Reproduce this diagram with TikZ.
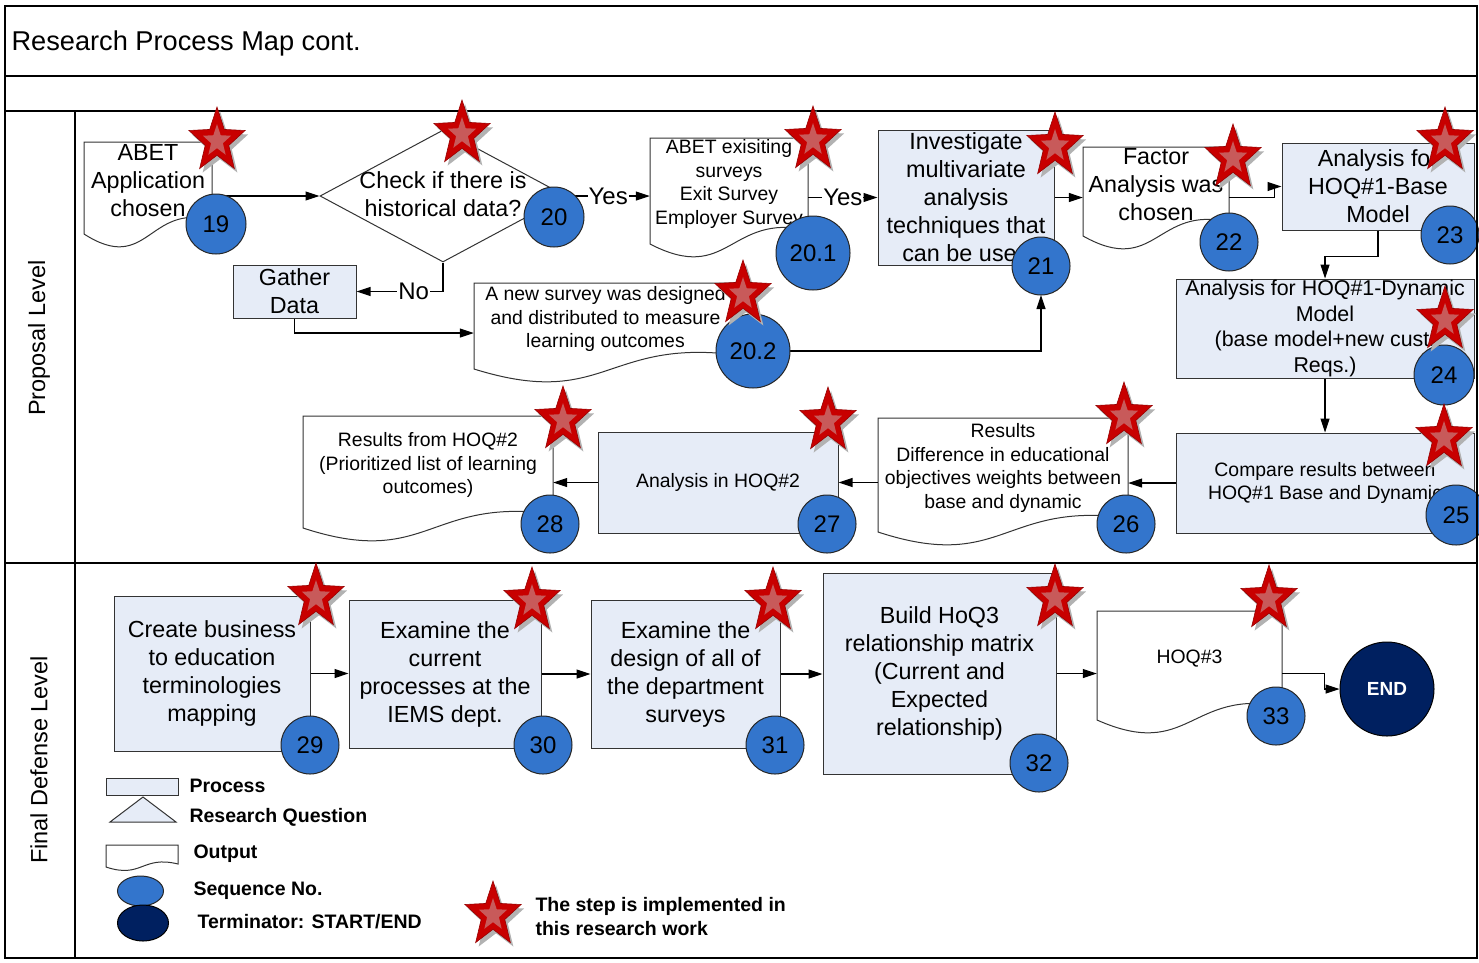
\documentclass[tikz,border=0pt]{standalone}
\usepackage{fontspec}
\setmainfont{Liberation Sans}
\usetikzlibrary{arrows.meta,shapes.geometric,calc}
\definecolor{procfill}{RGB}{230,236,247}
\definecolor{seqblue}{RGB}{51,117,204}
\definecolor{endnavy}{RGB}{0,32,96}
\definecolor{starred}{RGB}{200,0,0}
\definecolor{stardark}{RGB}{150,0,0}
\definecolor{starlight}{RGB}{200,90,90}
\newcommand\spath{(270:29.5 and 34) -- (306:12.4 and 14.3) -- (342:29.5 and 34) -- (18:12.4 and 14.3) -- (54:29.5 and 34) -- (90:12.4 and 14.3) -- (126:29.5 and 34) -- (162:12.4 and 14.3) -- (198:29.5 and 34) -- (234:12.4 and 14.3) -- cycle}
\newcommand\docnode[7]{%
  \draw[outl, fill=white] (#2,#3) -- (#4,#3) -- (#4,#5) .. controls ({(#2+#4)/2},{#5-17}) and ({(#2+#4)/2},{#5+55}) .. (#2,{#5+14}) -- cycle;
  \node[docbox,#6, minimum width={#4-#2}, minimum height={#5-#3}] (#1) at ({(#2+#4)/2},{(#3+#5)/2}) {#7};
}
\begin{document}
\begin{tikzpicture}[x=1pt,y=-1pt,
  frame/.style={line width=1.2pt, draw=black},
  outl/.style={line width=1pt, draw=black!80},
  docbox/.style={inner sep=0pt, align=center},
  proc/.style={rectangle, outl, fill=procfill, inner sep=0pt, align=center},
  f22/.style={font=\fontsize{23.3}{28}\selectfont},
  f23/.style={font=\fontsize{23.4}{28}\selectfont},
  f20/.style={font=\fontsize{21.4}{25.5}\selectfont},
  f18/.style={font=\fontsize{19.4}{23.5}\selectfont},
  fleg/.style={font=\bfseries\fontsize{19.5}{24}\selectfont},
  seq/.style={circle, draw=black!85, line width=1pt, fill=seqblue, inner sep=0pt, minimum size=58pt, font=\fontsize{24}{24}\selectfont},
  conn/.style={line width=1.1pt, draw=black, -{Triangle[length=14pt,width=9pt]}},
  lbl/.style={fill=white, inner sep=1pt, font=\fontsize{24}{24}\selectfont},
  rstar/.pic={
    \fill[black!30, shift={(3,4)}] \spath;
    \filldraw[fill=starred, draw=stardark, line width=0.6pt] \spath;
    \fill[starlight, scale=0.5] \spath;
  }]
\useasboundingbox (0,0) rectangle (1479,962);
% frame and lanes
\draw[frame] (5,6) rectangle (1477,958);
\draw[frame] (5,76) -- (1477,76);
\draw[frame] (5,111) -- (1477,111);
\draw[frame] (5,563) -- (1477,563);
\draw[frame] (75,111) -- (75,958);
\node[anchor=west, font=\fontsize{27.2}{27}\selectfont] (title) at (8,43) {Research Process Map cont.};
\node[rotate=90, font=\fontsize{23.5}{28}\selectfont] (lane1) at (39,338) {Proposal Level};
\node[rotate=90, font=\fontsize{23.5}{28}\selectfont] (lane2) at (39,760) {Final Defense Level};

% ---------- Proposal level shapes ----------
\docnode{d19}{84}{142}{212}{220}{f22}{ABET\\Application\\chosen}
\node[diamond, outl, fill=white, minimum width=246pt, minimum height=132pt, inner sep=0pt] (q20) at (443,196) {};
\node[f22, align=center] (q20t) at (443,194) {Check if there is\\historical data?};
\docnode{d201}{650}{138}{808}{230}{f18}{ABET exisiting\\surveys\\Exit Survey\\Employer Survey}
\node[proc, f23, minimum width=176pt, minimum height=135pt] (b21) at (966,197.5) {Investigate\\multivariate\\analysis\\techniques that\\can be used};
\docnode{d22}{1083}{147}{1229}{222}{f22}{Factor\\Analysis was\\chosen}
\node[proc, f22, minimum width=192pt, minimum height=87pt] (b23) at (1378,186.5) {Analysis for\\HOQ\#1-Base\\Model};
\node[proc, f22, minimum width=123pt, minimum height=53pt] (gd) at (294.5,291.5) {Gather\\Data};
\docnode{d202}{474}{283}{737}{355}{f18}{A new survey was designed\\and distributed to measure\\learning outcomes}
\node[proc, f20, minimum width=298pt, minimum height=99pt] (b24) at (1325,328.5) {Analysis for HOQ\#1-Dynamic\\Model\\(base model+new cust.\\Reqs.)};
\node[proc, f18, minimum width=298pt, minimum height=100pt] (b25) at (1325,483) {Compare results between\\HOQ\#1 Base and Dynamic};
\docnode{d26}{878}{418}{1128}{518}{f18}{Results\\Difference in educational\\objectives weights between\\base and dynamic}
\node[proc, f18, minimum width=240pt, minimum height=101pt] (b27) at (718,482.5) {Analysis in HOQ\#2};
\docnode{d28}{303}{416}{553}{514}{f18}{Results from HOQ\#2\\(Prioritized list of learning\\outcomes)}

% ---------- Final defense shapes ----------
\node[proc, f22, minimum width=196pt, minimum height=155pt] (b29) at (212,673.5) {Create business\\to education\\terminologies\\mapping};
\node[proc, f22, minimum width=192pt, minimum height=148pt] (b30) at (445,674) {Examine the\\current\\processes at the\\IEMS dept.};
\node[proc, f22, minimum width=189pt, minimum height=148pt] (b31) at (685.5,674) {Examine the\\design of all of\\the department\\surveys};
\node[proc, f22, minimum width=233pt, minimum height=201pt] (b32) at (939.5,673.5) {Build HoQ3\\relationship matrix\\(Current and\\Expected\\relationship)};
\docnode{d33}{1097}{611}{1282}{706}{f18}{HOQ\#3}
\node[circle, draw=black, line width=1pt, fill=endnavy, minimum size=94pt, inner sep=0pt, text=white, font=\bfseries\fontsize{19}{19}\selectfont] (end) at (1387,689) {END};

% ---------- connectors ----------
\draw[conn] (d19.east |- q20.west) -- (q20.west);
\draw[conn] (q20.east) -- node[lbl, pos=0.5] {Yes} (q20.east -| d201.west);
\draw[conn] (d201.east |- b21.west) -- node[lbl, pos=0.5] {Yes} (b21.west);
\draw[conn] (b21.east) -- (b21.east -| d22.west);
\draw[conn] ($(d22.east)+(0,13)$) -- ++(45,0) |- (b23.west);
\draw[conn] (b23.south) -- ++(0,26) -| (b24.north);
\draw[conn] (b24.south) -- (b25.north);
\draw[conn] (b25.west) -- (b25.west -| d26.east);
\draw[conn] (b27.east -| d26.west) -- (b27.east);
\draw[conn] (b27.west) -- (b27.west -| d28.east);
\draw[conn] (q20.south) |- node[lbl, pos=0.67] {No} (gd.east);
\draw[conn] (gd.south) |- ($(d202.west)+(0,14)$);
\path (753,351) coordinate (p202) (1041,266) coordinate (p21);
\draw[conn] ($(p202)+(37,0)$) -| ($(p21)+(0,29)$);
\draw[conn] (b29.east) -- (b29.east -| b30.west);
\draw[conn] (b30.east) -- (b30.east -| b31.west);
\draw[conn] (b31.east) -- (b31.east -| b32.west);
\draw[conn] (b32.east) -- (b32.east -| d33.west);
\draw[conn] (d33.east |- b32.east) -- ++(42,0) |- (end.west);

% ---------- sequence numbers ----------
\node[seq, minimum size=60pt] (c19) at (216,224) {19};
\node[seq, minimum size=60pt] (c20) at (554,217) {20};
\node[seq, minimum size=74pt] (c201) at (813,253) {20.1};
\node[seq, minimum size=74pt] (c202) at (p202) {20.2};
\node[seq] (c21) at (p21) {21};
\node[seq] (c22) at (1229,242) {22};
\node[seq] (c23) at (1450,235) {23};
\node[seq, minimum size=60pt] (c24) at (1444,375) {24};
\node[seq, minimum size=60pt] (c25) at (1456,515) {25};
\node[seq] (c26) at (1126,524) {26};
\node[seq] (c27) at (827,524) {27};
\node[seq] (c28) at (550,524) {28};
\node[seq] (c29) at (310,745) {29};
\node[seq] (c30) at (543,745) {30};
\node[seq] (c31) at (775,745) {31};
\node[seq] (c32) at (1039,763) {32};
\node[seq] (c33) at (1276,716) {33};

% ---------- legend ----------
\node[proc, minimum width=72pt, minimum height=17pt] (lgp) at (142,786.5) {};
\node[fleg, anchor=west] (lgpt) at (186,786) {Process};
\draw[outl, fill=procfill] (110,822) -- (143,797) -- (176,822) -- cycle;
\node[fleg, anchor=west] (lgqt) at (186,817) {Research Question};
\draw[outl, fill=white] (106,845) -- (178,845) -- (178,864) .. controls (142,855) and (142,879) .. (106,867) -- cycle;
\node[fleg, anchor=west] (lgot) at (190,854) {Output};
\node[ellipse, draw=black!85, line width=1pt, fill=seqblue, minimum width=46pt, minimum height=30pt, inner sep=0pt] (lgs) at (140.5,891) {};
\node[fleg, anchor=west] (lgst) at (190,891) {Sequence No.};
\node[ellipse, draw=black, line width=1pt, fill=endnavy, minimum width=51pt, minimum height=36pt, inner sep=0pt] (lgt) at (143,923) {};
\node[fleg, anchor=west] (lgtt) at (194,922) {Terminator: START/END};
\node[fleg, anchor=west, align=left] (lgstart) at (532,917) {The step is implemented in\\this research work};

% ---------- stars ----------
\foreach \sx/\sy in {217/141, 462/134, 813/140, 1055/146, 1233/158, 1445/141, 743/294, 1445/320, 563/420, 828/421, 1124/416, 1444/438, 316/597, 532/601, 773/601, 1055/598, 1269/599, 493/915}
  \pic at (\sx,\sy) {rstar};

\draw[frame] (1477,6) -- (1477,958);
\end{tikzpicture}
\end{document}
